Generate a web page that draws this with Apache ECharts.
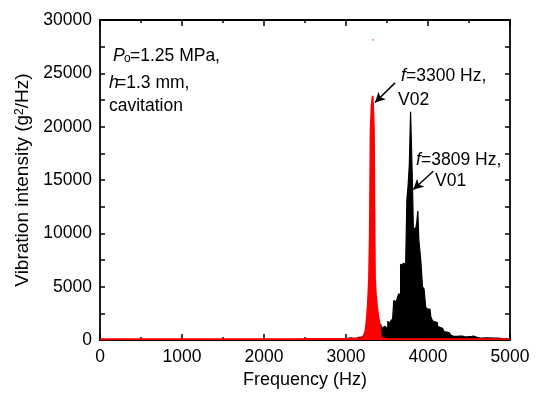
<!DOCTYPE html>
<html>
<head>
<meta charset="utf-8">
<script src="https://cdn.jsdelivr.net/npm/echarts@6/dist/echarts.min.js"></script>
<style>html,body{margin:0;padding:0;background:#fff;}#c{width:536px;height:394px;}</style>
</head>
<body>
<div id="c"></div>
<script>
const xTicks = [0, 1000, 2000, 3000, 4000, 5000];
const yTicks = [0, 5000, 10000, 15000, 20000, 25000, 30000];

const blackFreq = [0, 200, 400, 600, 800, 1000, 1200, 1400, 1600, 1800, 2000, 2200, 2400, 2600, 2800,
  2900, 3000, 3050, 3100, 3150, 3200, 3250, 3300, 3350, 3400,
  3415, 3430, 3445, 3455, 3470, 3490, 3504, 3516, 3530, 3545,
  3560, 3577, 3589, 3605, 3620, 3635, 3646, 3660, 3671, 3690,
  3705, 3720, 3735, 3750, 3765, 3780, 3795, 3805, 3815, 3828,
  3841, 3855, 3870, 3882, 3894, 3905, 3923, 3943, 3960, 3984,
  4000, 4024, 4045, 4065, 4085, 4106, 4125, 4146, 4165, 4187,
  4205, 4228, 4250, 4268, 4290, 4309, 4350, 4390, 4450, 4500,
  4553, 4600, 4634, 4700, 4800, 4900, 5000];
const blackVal = [20, 30, 25, 30, 35, 30, 40, 35, 40, 45, 40, 50, 60, 70, 80,
  100, 120, 200, 150, 250, 300, 200, 250, 300, 400,
  1300, 1500, 1000, 1200, 1300, 1100, 1200, 1800, 1500, 1700,
  1650, 2000, 3700, 3600, 3700, 3650, 4300, 4300, 7100, 7000,
  7200, 7100, 7100, 13200, 14500, 16500, 21400, 21500, 14800, 10400,
  10500, 10300, 11000, 12100, 9400, 8500, 7300, 5000, 4800, 3100,
  2900, 2900, 2200, 1800, 1700, 1650, 1300, 1200, 1100, 1000,
  800, 750, 700, 600, 450, 370, 350, 370, 300, 320,
  370, 250, 190, 200, 180, 150, 100];

const redFreq = [0, 500, 1000, 1500, 2000, 2500, 3000, 3100, 3200, 3220,
  3232, 3244, 3255, 3265, 3280, 3290, 3300, 3312, 3325, 3333,
  3341, 3347, 3354, 3365, 3378, 3395, 3415, 3427, 3500, 4000,
  4500, 5000];
const redVal = [80, 90, 100, 90, 100, 110, 130, 150, 180, 200,
  700, 1300, 2200, 3200, 5700, 10000, 19700, 22000, 22900, 21500,
  19700, 12000, 5700, 4300, 3200, 2200, 1300, 200, 120, 100,
  100, 90];

const strayFreq = [3329];
const strayVal = [28130];

const arrowV02 = [[3598, 24110], [3354, 22270]];
const arrowV01 = [[4065, 15820], [3821, 14110]];

const pairs = (a, b) => a.map((v, i) => [v, b[i]]);
const FONT = 'Liberation Sans, Arial, sans-serif';
const FS = 17.5;

const chart = echarts.init(document.getElementById('c'), null, {renderer: 'canvas'});

function axisLine() { return {show: true, onZero: false, lineStyle: {color: '#000', width: 1.8}}; }
function tick(len) { return {show: true, inside: true, length: len, lineStyle: {color: '#000', width: 1.5}}; }
function minor(len) { return {show: true, splitNumber: 2, length: len, lineStyle: {color: '#000', width: 1.5}}; }

function txt(x, y, text, opts) {
  return {
    type: 'text', x: x, y: y, silent: true,
    style: Object.assign({text: text, font: FS + 'px ' + FONT, fill: '#000', verticalAlign: 'alphabetic', textVerticalAlign: 'alphabetic'}, opts || {})
  };
}

const option = {
  backgroundColor: '#fff',
  animation: false,
  grid: {left: 100, right: 26, top: 20, bottom: 53},
  xAxis: [
    {
      type: 'value', position: 'bottom', min: xTicks[0], max: xTicks[xTicks.length - 1], interval: 1000,
      name: 'Frequency (Hz)', nameLocation: 'middle', nameGap: 27,
      nameTextStyle: {fontSize: 18, fontFamily: FONT, color: '#000'},
      axisLine: axisLine(), axisTick: tick(6), minorTick: minor(3), splitLine: {show: false},
      axisLabel: {fontSize: FS, fontFamily: FONT, color: '#000', margin: 8, formatter: v => String(v)}
    },
    {
      type: 'value', position: 'top', min: xTicks[0], max: xTicks[xTicks.length - 1], interval: 1000,
      axisLine: axisLine(), axisTick: tick(6), minorTick: minor(3), splitLine: {show: false},
      axisLabel: {show: false}
    }
  ],
  yAxis: [
    {
      type: 'value', position: 'left', min: yTicks[0], max: yTicks[yTicks.length - 1], interval: 5000,
      name: 'Vibration intensity (g{sup|2}/Hz)', nameLocation: 'middle', nameGap: 59, nameRotate: 90,
      nameTextStyle: {fontSize: 19, fontFamily: FONT, color: '#000',
        rich: {sup: {fontSize: 12, fontFamily: FONT, color: '#000', verticalAlign: 'top', padding: [0, 0, 7, 0]}}},
      axisLine: axisLine(), axisTick: tick(5), minorTick: minor(5), splitLine: {show: false},
      axisLabel: {fontSize: FS, fontFamily: FONT, color: '#000', margin: 8, formatter: v => String(v)}
    },
    {
      type: 'value', position: 'right', min: yTicks[0], max: yTicks[yTicks.length - 1], interval: 5000,
      axisLine: axisLine(), axisTick: tick(5), minorTick: minor(5), splitLine: {show: false},
      axisLabel: {show: false}
    }
  ],
  series: [
    {
      name: 'V01', type: 'line', data: pairs(blackFreq, blackVal), step: 'middle',
      symbol: 'none', lineStyle: {color: '#000', width: 1.2}, areaStyle: {color: '#000', opacity: 1},
      z: 2,
      markLine: {
        silent: true, symbol: ['none', 'arrow'], symbolSize: [8, 10],
        lineStyle: {color: '#000', width: 1.5, type: 'solid'}, label: {show: false},
        data: [[{coord: arrowV01[0]}, {coord: arrowV01[1]}]]
      }
    },
    {
      name: 'V02', type: 'line', data: pairs(redFreq, redVal),
      symbol: 'none', lineStyle: {color: '#ff0000', width: 1.8}, areaStyle: {color: '#ff0000', opacity: 1},
      z: 3,
      markLine: {
        silent: true, symbol: ['none', 'arrow'], symbolSize: [8, 10],
        lineStyle: {color: '#000', width: 1.5, type: 'solid'}, label: {show: false},
        data: [[{coord: arrowV02[0]}, {coord: arrowV02[1]}]]
      }
    },
    {
      name: 'stray', type: 'scatter', data: pairs(strayFreq, strayVal),
      symbol: 'rect', symbolSize: [2, 1], itemStyle: {color: '#ff0000'}, z: 3, silent: true
    }
  ],
  graphic: [
    txt(113, 47, 'P', {font: 'italic ' + FS + 'px ' + FONT}),
    txt(124, 53, 'o', {font: '12px ' + FONT}),
    txt(130, 47, '=1.25 MPa,'),
    txt(109, 74, 'h', {font: 'italic ' + FS + 'px ' + FONT}),
    txt(116, 74, '=1.3 mm,'),
    txt(109, 97, 'cavitation'),
    txt(401, 67, 'f', {font: 'italic ' + FS + 'px ' + FONT}),
    txt(406, 67, '=3300 Hz,'),
    txt(398, 91, 'V02'),
    txt(416, 151, 'f', {font: 'italic ' + FS + 'px ' + FONT}),
    txt(421, 151, '=3809 Hz,'),
    txt(435, 172, 'V01')
  ]
};
chart.setOption(option);
</script>
</body>
</html>
